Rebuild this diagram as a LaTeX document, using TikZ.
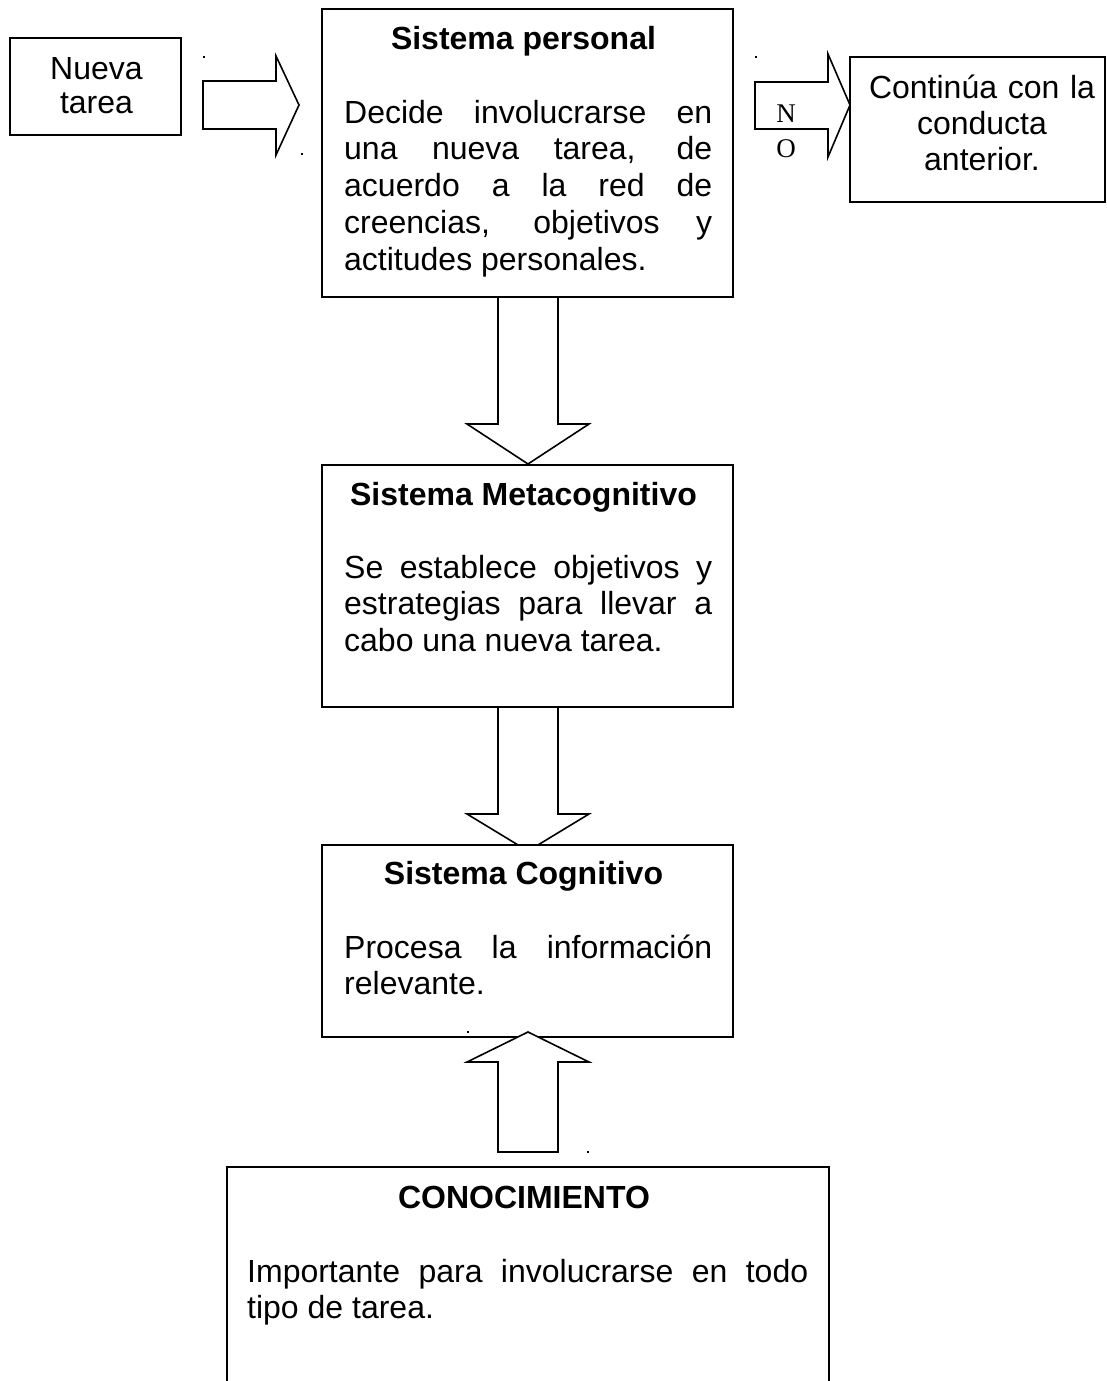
\documentclass[tikz,border=0pt]{standalone}
\usepackage{fontspec}
\setmainfont{Liberation Sans}
\newfontfamily\noserif{Liberation Serif}
\begin{document}
\begin{tikzpicture}[x=1pt,y=-1pt,
  box/.style={draw=black, line width=1.6pt, fill=white, rectangle, inner sep=0pt},
  blockarrow/.style={draw=black, line width=1.6pt, fill=white, line join=miter},
  boxtitle/.style={font=\bfseries\fontsize{32}{37}\selectfont, anchor=base, inner sep=0pt},
  boxbody/.style={font=\fontsize{32}{36.8}\selectfont, align=justify, anchor=base west, inner sep=0pt,
    execute at begin node={\tolerance=10000\relax\hbadness=10000\relax\hyphenpenalty=10000\relax}},
  centretext/.style={font=\fontsize{32}{34}\selectfont, align=center, anchor=base, inner sep=0pt},
  speck/.style={fill=black, inner sep=0pt, minimum size=2pt, rectangle},
]
\path[use as bounding box] (0,0) rectangle (1107,1381);

% block arrows drawn below the boxes
\draw[blockarrow] (203,81) -- (276,81) -- (276,56) -- (299,105) -- (276,155) -- (276,129) -- (203,129) -- cycle;
\draw[blockarrow] (755,82) -- (828,82) -- (828,54) -- (850,105) -- (828,157) -- (828,129) -- (755,129) -- cycle;
\draw[blockarrow] (498,297) -- (498,424) -- (467,424) -- (528,464) -- (589,424) -- (558,424) -- (558,297) -- cycle;
\draw[blockarrow] (498,707) -- (498,814) -- (467,814) -- (528,851) -- (589,814) -- (558,814) -- (558,707) -- cycle;

% boxes
\node[box, minimum width=171pt, minimum height=97pt] (nt) at (95.5,86.5) {};
\node[box, minimum width=411pt, minimum height=288pt] (sp) at (527.5,153) {};
\node[box, minimum width=255pt, minimum height=145pt] (ca) at (977.5,129.5) {};
\node[box, minimum width=411pt, minimum height=242pt] (sm) at (527.5,586) {};
\node[box, minimum width=411pt, minimum height=192pt] (sc) at (527.5,941) {};
\node[box, minimum width=602pt, minimum height=236pt] (cn) at (528,1285) {};

% up arrow drawn over the cognitive box
\draw[blockarrow] (498,1152) -- (498,1062) -- (467,1062) -- (528,1032) -- (589,1062) -- (558,1062) -- (558,1152) -- cycle;

% texts
\node[centretext, text width=171pt] (nttext) at (96.5,79.5) {Nueva\\tarea};
\node[centretext, font=\fontsize{32}{36.5}\selectfont, text width=255pt] (catext) at (982,98) {Continúa con la\\conducta\\anterior.};
\node[font=\noserif\fontsize{27}{35}\selectfont, align=center, text width=30pt, anchor=base, inner sep=0pt] (notext) at (786,122) {N\\O};

\node[boxtitle] (sptitle) at (523.5,50) {Sistema personal};
\node[boxbody, text width=368pt] (spbody) at (344,123) {Decide involucrarse en\linebreak una nueva tarea, de\linebreak acuerdo a la red de\linebreak creencias, objetivos y\linebreak actitudes personales.};

\node[boxtitle] (smtitle) at (523.5,505) {Sistema Metacognitivo};
\node[boxbody, text width=368pt] (smbody) at (344,578) {Se establece objetivos y\linebreak estrategias para llevar a\linebreak cabo una nueva tarea.};

\node[boxtitle] (sctitle) at (523.5,884) {Sistema Cognitivo};
\node[boxbody, text width=368pt] (scbody) at (344,958) {Procesa la información\linebreak relevante.};

\node[boxtitle] (cntitle) at (524,1208) {CONOCIMIENTO};
\node[boxbody, text width=561pt] (cnbody) at (247,1282) {Importante para involucrarse en todo\linebreak tipo de tarea.};

% small specks
\node[speck] (s1) at (204,57) {};
\node[speck] (s2) at (302,154) {};
\node[speck] (s3) at (756,57) {};
\node[speck] (s4) at (468,1032) {};
\node[speck] (s5) at (588,1152) {};
\end{tikzpicture}
\end{document}
